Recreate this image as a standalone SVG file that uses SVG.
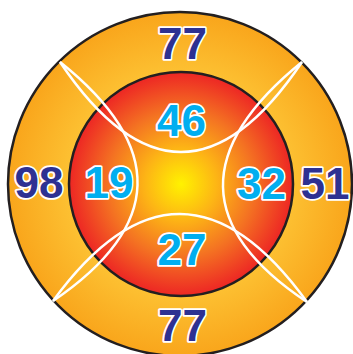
<svg xmlns="http://www.w3.org/2000/svg" width="353" height="354" viewBox="0 0 353 354">
<defs>
<radialGradient id="gOuter" cx="180" cy="184" r="173" gradientUnits="userSpaceOnUse">
<stop offset="0.6" stop-color="#fdc435"/>
<stop offset="1" stop-color="#f9a51b"/>
</radialGradient>
<radialGradient id="gInner" cx="181" cy="184" r="112" gradientUnits="userSpaceOnUse">
<stop offset="0" stop-color="#fff200"/>
<stop offset="0.32" stop-color="#fdb515"/>
<stop offset="0.65" stop-color="#f47322"/>
<stop offset="1" stop-color="#ed2624"/>
</radialGradient>
<style>
.ring{stroke:#231f20;stroke-width:2.5}
.arc{fill:none;stroke:#ffffff;stroke-width:2.5}
text{font-family:"Liberation Sans",Arial,sans-serif;font-weight:bold;font-size:44px;text-anchor:middle;stroke:#ffffff;stroke-width:3.5;paint-order:stroke;stroke-linejoin:round}
.o{fill:#2e3192}
.i{fill:#00aeef}
</style>
</defs>
<g id="outer-ring"><circle class="ring" cx="180" cy="184" r="172" fill="url(#gOuter)"/></g>
<g id="inner-circle"><circle class="ring" cx="181" cy="184" r="112" fill="url(#gInner)"/></g>
<g id="arcs">
<path class="arc" d="M60,62 Q181,242 302,62"/>
<path class="arc" d="M53,301 Q180,126.5 307,302"/>
<path class="arc" d="M60,62 Q218.5,188.5 53,301"/>
<path class="arc" d="M302,62 Q141.5,192 307,302"/>
</g>
<g id="labels">
<text class="o" x="182.5" y="59">77</text>
<text class="o" x="182.5" y="341">77</text>
<text class="o" x="39" y="198">98</text>
<text class="o" x="325" y="199">51</text>
<text class="i" x="181.5" y="136">46</text>
<text class="i" x="182" y="265">27</text>
<text class="i" x="109" y="198">19</text>
<text class="i" x="261.5" y="199">32</text>
</g>
</svg>
